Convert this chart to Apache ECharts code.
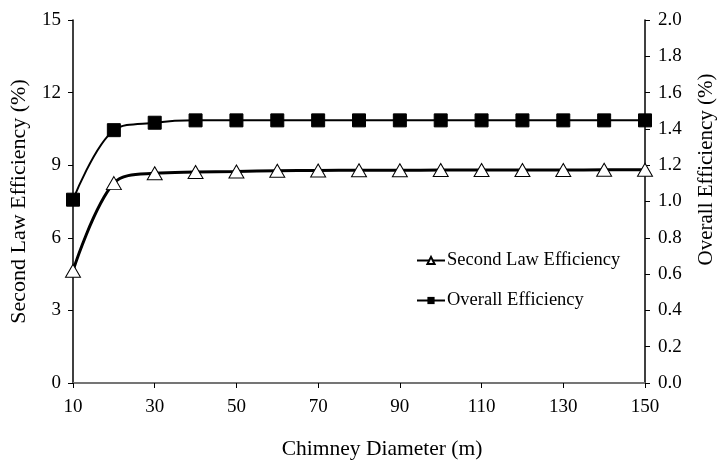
<!DOCTYPE html>
<html>
<head>
<meta charset="utf-8">
<script src="https://cdn.jsdelivr.net/npm/echarts@6/dist/echarts.min.js"></script>
<style>html,body{margin:0;padding:0;background:#fff}#c{width:725px;height:465px}</style>
</head>
<body>
<div id="c"></div>
<script>
const diameters = [10,20,30,40,50,60,70,80,90,100,110,120,130,140,150];
const secondLaw = [4.64,8.26,8.67,8.72,8.74,8.77,8.78,8.79,8.79,8.8,8.8,8.8,8.8,8.81,8.81];
const overall = [1.01,1.393,1.434,1.447,1.447,1.447,1.447,1.447,1.447,1.447,1.447,1.447,1.447,1.447,1.447];
const leftTicks = {min:0, max:15, interval:3};
const rightTicks = {min:0, max:2, interval:0.2};

const font = '"Liberation Serif","Times New Roman",serif';
const chart = echarts.init(document.getElementById('c'));
chart.setOption({
  animation:false,
  backgroundColor:'#fff',
  textStyle:{fontFamily:font, color:'#000'},
  grid:{left:72, right:77, top:20, bottom:80, containLabel:false},
  legend:{
    orient:'vertical', left:411, top:246, itemWidth:28, itemHeight:9, itemGap:21,
    textStyle:{fontFamily:font, fontSize:18.5, color:'#000', padding:[0,0,0,-3]},
    data:['Second Law Efficiency','Overall Efficiency']
  },
  xAxis:[{
    type:'category', data:diameters.map(String), boundaryGap:false,
    name:'Chimney Diameter (m)', nameLocation:'middle', nameGap:55,
    nameTextStyle:{fontFamily:font, fontSize:21.5, color:'#000', padding:[0,0,0,46]},
    axisLine:{lineStyle:{color:'#000', width:1.5}},
    axisTick:{interval:1, length:5, lineStyle:{color:'#000'}},
    axisLabel:{interval:1, fontFamily:font, fontSize:19, color:'#000', margin:15},
    splitLine:{show:false}
  },{
    type:'category', data:diameters.map(String), boundaryGap:false, position:'top',
    axisLine:{lineStyle:{color:'#888', width:1.5}},
    axisTick:{show:false}, axisLabel:{show:false}, splitLine:{show:false}
  }],
  yAxis:[{
    type:'value', min:leftTicks.min, max:leftTicks.max, interval:leftTicks.interval, position:'left',
    name:'Second Law Efficiency (%)', nameLocation:'middle', nameGap:43, nameRotate:90,
    nameTextStyle:{fontFamily:font, fontSize:22, color:'#000'},
    axisLine:{show:true, lineStyle:{color:'#000', width:1.5}},
    axisTick:{show:true, length:5, lineStyle:{color:'#000'}},
    axisLabel:{fontFamily:font, fontSize:19, color:'#000', margin:12},
    splitLine:{show:false}
  },{
    type:'value', min:rightTicks.min, max:rightTicks.max, interval:rightTicks.interval, position:'right',
    name:'Overall Efficiency (%)', nameLocation:'middle', nameGap:51, nameRotate:90,
    nameTextStyle:{fontFamily:font, fontSize:21, color:'#000', padding:[0,0,0,64]},
    axisLine:{show:true, lineStyle:{color:'#000', width:1.5}},
    axisTick:{show:true, length:5, lineStyle:{color:'#000'}},
    axisLabel:{fontFamily:font, fontSize:19, color:'#000', margin:13, formatter:v=>v.toFixed(1)},
    splitLine:{show:false}
  }],
  series:[{
    name:'Second Law Efficiency', type:'line', yAxisIndex:0, data:secondLaw,
    smooth:0.35, symbol:'triangle', symbolSize:[15,13],
    lineStyle:{color:'#000', width:3},
    itemStyle:{color:'#fff', borderColor:'#000', borderWidth:1},
    z:2
  },{
    name:'Overall Efficiency', type:'line', yAxisIndex:1, data:overall,
    smooth:0.35, symbol:'rect', symbolSize:13,
    lineStyle:{color:'#000', width:2},
    itemStyle:{color:'#000', borderColor:'#000'},
    z:3
  }]
});
</script>
</body>
</html>
